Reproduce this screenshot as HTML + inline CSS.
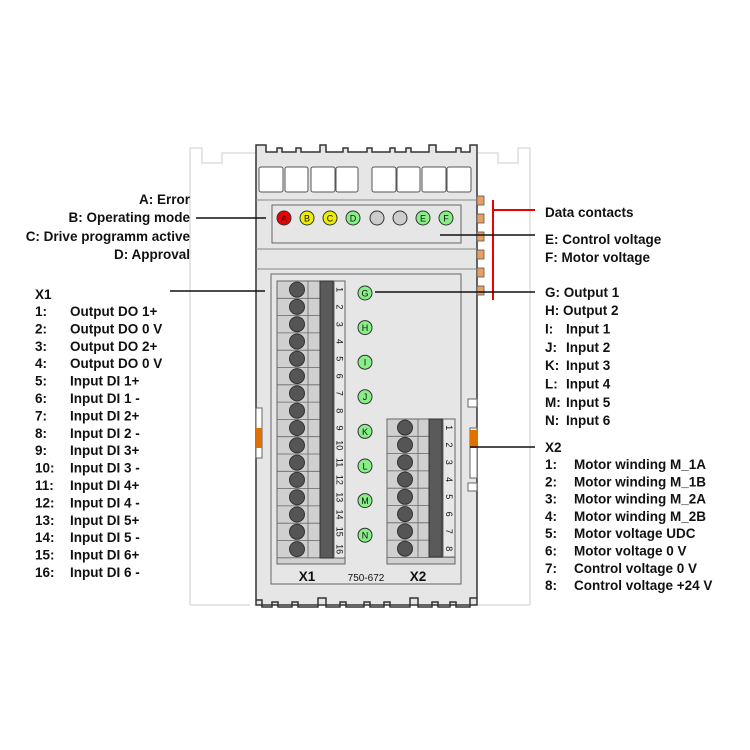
<!DOCTYPE html>
<html><head><meta charset="utf-8"><style>
html,body{margin:0;padding:0;background:#fff}
svg{display:block}
text{font-family:"Liberation Sans",sans-serif;font-weight:bold;font-size:13.5px;fill:#111}
</style></head><body>
<svg width="750" height="750" viewBox="0 0 750 750" xmlns="http://www.w3.org/2000/svg">
<!-- ghost neighbours -->
<g fill="none" stroke="#ddd" stroke-width="1.5">
<path d="M190 605 V148 H202 V163 H222 V153 H258"/>
<path d="M530 605 V148 H518 V163 H498 V153 H478"/>
<path d="M190 605 H250 M478 605 H530"/>
</g>
<!-- module body -->
<path d="M256 605 V145 H266 V152 H277 V148 H282 V152 H296 V148 H301 V152 H320 V145 H326 V152 H343 V148 H348 V152 H367 V148 H372 V152 H390 V148 H395 V152 H406 V148 H411 V152 H429 V145 H436 V152 H456 V148 H461 V152 H470 V145 H477 V605 Z" fill="#e6e6e6" stroke="#333" stroke-width="1.5"/>
<!-- bottom notches -->
<path d="M256 600 H262 V607 H272 V602 H278 V607 H292 V602 H298 V607 H318 V598 H326 V607 H340 V602 H346 V607 H364 V602 H370 V607 H384 V602 H390 V607 H410 V598 H418 V607 H432 V602 H438 V607 H450 V602 H456 V607 H470 V598 H477" fill="none" stroke="#333" stroke-width="1.5"/>
<!-- connector windows -->
<g fill="#fff" stroke="#555" stroke-width="1">
<rect x="259" y="167" width="24" height="25" rx="2"/><rect x="285" y="167" width="23" height="25" rx="2"/>
<rect x="311" y="167" width="24" height="25" rx="2"/><rect x="336" y="167" width="22" height="25" rx="2"/>
<rect x="372" y="167" width="24" height="25" rx="2"/><rect x="397" y="167" width="23" height="25" rx="2"/>
<rect x="422" y="167" width="24" height="25" rx="2"/><rect x="447" y="167" width="24" height="25" rx="2"/>
</g>
<g stroke="#888" stroke-width="1"><line x1="256" y1="200" x2="477" y2="200"/><line x1="256" y1="249" x2="477" y2="249"/><line x1="256" y1="269" x2="477" y2="269"/></g>
<rect x="272" y="205" width="189" height="38" fill="#e6e6e6" stroke="#666"/>
<g stroke="#333" stroke-width="1" font-size="9">
<circle cx="284" cy="218" r="7" fill="#e00"/><circle cx="307" cy="218" r="7" fill="#ee0"/><circle cx="330" cy="218" r="7" fill="#ee0"/><circle cx="353" cy="218" r="7" fill="#8e8"/>
<circle cx="377" cy="218" r="7" fill="#ccc"/><circle cx="400" cy="218" r="7" fill="#ccc"/><circle cx="423" cy="218" r="7" fill="#8e8"/><circle cx="446" cy="218" r="7" fill="#8e8"/>
</g>
<g font-size="9" font-weight="normal" text-anchor="middle">
<text x="284" y="221.5" style="font-size:9px;font-weight:normal">A</text><text x="307" y="221.5" style="font-size:9px;font-weight:normal">B</text><text x="330" y="221.5" style="font-size:9px;font-weight:normal">C</text><text x="353" y="221.5" style="font-size:9px;font-weight:normal">D</text><text x="423" y="221.5" style="font-size:9px;font-weight:normal">E</text><text x="446" y="221.5" style="font-size:9px;font-weight:normal">F</text>
</g>
<!-- lower panel -->
<rect x="271" y="274" width="190" height="310" fill="#e6e6e6" stroke="#666"/>
<!-- side clips -->
<rect x="256" y="408" width="6" height="50" fill="#fff" stroke="#666"/><rect x="256" y="428" width="6" height="20" fill="#e07000"/>
<rect x="468" y="399" width="9" height="8" fill="#fff" stroke="#666"/><rect x="468" y="483" width="9" height="8" fill="#fff" stroke="#666"/>
<rect x="470" y="428" width="7" height="50" fill="#fff" stroke="#666"/><rect x="470" y="430" width="8" height="18" fill="#e07000"/>
<!-- X1 block -->
<g id="x1">
<rect x="277" y="281" width="68" height="283" fill="#d0d0d0" stroke="#666"/>
</g>
<g stroke="#666" stroke-width="0.8">
<line x1="277" y1="298.3" x2="345" y2="298.3"/><line x1="277" y1="315.6" x2="345" y2="315.6"/><line x1="277" y1="332.9" x2="345" y2="332.9"/><line x1="277" y1="350.2" x2="345" y2="350.2"/><line x1="277" y1="367.5" x2="345" y2="367.5"/><line x1="277" y1="384.8" x2="345" y2="384.8"/><line x1="277" y1="402.1" x2="345" y2="402.1"/><line x1="277" y1="419.4" x2="345" y2="419.4"/><line x1="277" y1="436.7" x2="345" y2="436.7"/><line x1="277" y1="454" x2="345" y2="454"/><line x1="277" y1="471.3" x2="345" y2="471.3"/><line x1="277" y1="488.6" x2="345" y2="488.6"/><line x1="277" y1="505.9" x2="345" y2="505.9"/><line x1="277" y1="523.2" x2="345" y2="523.2"/><line x1="277" y1="540.5" x2="345" y2="540.5"/><line x1="277" y1="557.8" x2="345" y2="557.8"/>
<line x1="308" y1="281" x2="308" y2="558"/>
</g>
<rect x="320" y="281" width="13" height="277" fill="#5a5a5a" stroke="#333"/>
<rect x="334" y="281" width="11" height="277" fill="#e8e8e8" stroke="#666"/>
<g fill="#555" stroke="#333">
<circle cx="297" cy="289.6" r="7.5"/><circle cx="297" cy="306.9" r="7.5"/><circle cx="297" cy="324.2" r="7.5"/><circle cx="297" cy="341.5" r="7.5"/><circle cx="297" cy="358.8" r="7.5"/><circle cx="297" cy="376.1" r="7.5"/><circle cx="297" cy="393.4" r="7.5"/><circle cx="297" cy="410.7" r="7.5"/><circle cx="297" cy="428" r="7.5"/><circle cx="297" cy="445.3" r="7.5"/><circle cx="297" cy="462.6" r="7.5"/><circle cx="297" cy="479.9" r="7.5"/><circle cx="297" cy="497.2" r="7.5"/><circle cx="297" cy="514.5" r="7.5"/><circle cx="297" cy="531.8" r="7.5"/><circle cx="297" cy="549.1" r="7.5"/>
</g>
<g style="font-size:9px;font-weight:normal">
<text transform="translate(336.5,289.6) rotate(90)" text-anchor="middle" style="font-size:9px;font-weight:normal">1</text>
<text transform="translate(336.5,306.9) rotate(90)" text-anchor="middle" style="font-size:9px;font-weight:normal">2</text>
<text transform="translate(336.5,324.2) rotate(90)" text-anchor="middle" style="font-size:9px;font-weight:normal">3</text>
<text transform="translate(336.5,341.5) rotate(90)" text-anchor="middle" style="font-size:9px;font-weight:normal">4</text>
<text transform="translate(336.5,358.8) rotate(90)" text-anchor="middle" style="font-size:9px;font-weight:normal">5</text>
<text transform="translate(336.5,376.1) rotate(90)" text-anchor="middle" style="font-size:9px;font-weight:normal">6</text>
<text transform="translate(336.5,393.4) rotate(90)" text-anchor="middle" style="font-size:9px;font-weight:normal">7</text>
<text transform="translate(336.5,410.7) rotate(90)" text-anchor="middle" style="font-size:9px;font-weight:normal">8</text>
<text transform="translate(336.5,428) rotate(90)" text-anchor="middle" style="font-size:9px;font-weight:normal">9</text>
<text transform="translate(336.5,445.3) rotate(90)" text-anchor="middle" style="font-size:9px;font-weight:normal">10</text>
<text transform="translate(336.5,462.6) rotate(90)" text-anchor="middle" style="font-size:9px;font-weight:normal">11</text>
<text transform="translate(336.5,479.9) rotate(90)" text-anchor="middle" style="font-size:9px;font-weight:normal">12</text>
<text transform="translate(336.5,497.2) rotate(90)" text-anchor="middle" style="font-size:9px;font-weight:normal">13</text>
<text transform="translate(336.5,514.5) rotate(90)" text-anchor="middle" style="font-size:9px;font-weight:normal">14</text>
<text transform="translate(336.5,531.8) rotate(90)" text-anchor="middle" style="font-size:9px;font-weight:normal">15</text>
<text transform="translate(336.5,549.1) rotate(90)" text-anchor="middle" style="font-size:9px;font-weight:normal">16</text>
</g>
<!-- X2 block -->
<rect x="387" y="419" width="68" height="145" fill="#d0d0d0" stroke="#666"/>
<g stroke="#666" stroke-width="0.8">
<line x1="387" y1="436.3" x2="455" y2="436.3"/><line x1="387" y1="453.6" x2="455" y2="453.6"/><line x1="387" y1="470.9" x2="455" y2="470.9"/><line x1="387" y1="488.2" x2="455" y2="488.2"/><line x1="387" y1="505.5" x2="455" y2="505.5"/><line x1="387" y1="522.8" x2="455" y2="522.8"/><line x1="387" y1="540.1" x2="455" y2="540.1"/><line x1="387" y1="557.4" x2="455" y2="557.4"/>
<line x1="418" y1="419" x2="418" y2="557"/>
</g>
<rect x="429" y="419" width="13" height="138" fill="#5a5a5a" stroke="#333"/>
<rect x="443" y="419" width="12" height="138" fill="#e8e8e8" stroke="#666"/>
<g fill="#555" stroke="#333">
<circle cx="405" cy="427.6" r="7.5"/><circle cx="405" cy="444.9" r="7.5"/><circle cx="405" cy="462.2" r="7.5"/><circle cx="405" cy="479.5" r="7.5"/><circle cx="405" cy="496.8" r="7.5"/><circle cx="405" cy="514.1" r="7.5"/><circle cx="405" cy="531.4" r="7.5"/><circle cx="405" cy="548.7" r="7.5"/>
</g>
<g>
<text transform="translate(446,427.6) rotate(90)" text-anchor="middle" style="font-size:9px;font-weight:normal">1</text>
<text transform="translate(446,444.9) rotate(90)" text-anchor="middle" style="font-size:9px;font-weight:normal">2</text>
<text transform="translate(446,462.2) rotate(90)" text-anchor="middle" style="font-size:9px;font-weight:normal">3</text>
<text transform="translate(446,479.5) rotate(90)" text-anchor="middle" style="font-size:9px;font-weight:normal">4</text>
<text transform="translate(446,496.8) rotate(90)" text-anchor="middle" style="font-size:9px;font-weight:normal">5</text>
<text transform="translate(446,514.1) rotate(90)" text-anchor="middle" style="font-size:9px;font-weight:normal">6</text>
<text transform="translate(446,531.4) rotate(90)" text-anchor="middle" style="font-size:9px;font-weight:normal">7</text>
<text transform="translate(446,548.7) rotate(90)" text-anchor="middle" style="font-size:9px;font-weight:normal">8</text>
</g>
<!-- G-N LEDs -->
<g fill="#8e8" stroke="#333">
<circle cx="365" cy="293" r="7"/><circle cx="365" cy="327.6" r="7"/><circle cx="365" cy="362.2" r="7"/><circle cx="365" cy="396.8" r="7"/><circle cx="365" cy="431.4" r="7"/><circle cx="365" cy="466" r="7"/><circle cx="365" cy="500.6" r="7"/><circle cx="365" cy="535.2" r="7"/>
</g>
<g text-anchor="middle">
<text x="365" y="296.5" style="font-size:9px;font-weight:normal">G</text><text x="365" y="331" style="font-size:9px;font-weight:normal">H</text><text x="365" y="365.5" style="font-size:9px;font-weight:normal">I</text><text x="365" y="400" style="font-size:9px;font-weight:normal">J</text><text x="365" y="434.8" style="font-size:9px;font-weight:normal">K</text><text x="365" y="469.4" style="font-size:9px;font-weight:normal">L</text><text x="365" y="504" style="font-size:9px;font-weight:normal">M</text><text x="365" y="538.6" style="font-size:9px;font-weight:normal">N</text>
</g>
<text x="307" y="581" text-anchor="middle">X1</text>
<text x="366" y="581" text-anchor="middle" style="font-size:10px;font-weight:normal">750-672</text>
<text x="418" y="581" text-anchor="middle">X2</text>
<!-- data contacts -->
<g fill="#e8a060" stroke="#555" stroke-width="0.8">
<rect x="477" y="196" width="7" height="9"/><rect x="477" y="214" width="7" height="9"/><rect x="477" y="232" width="7" height="9"/><rect x="477" y="250" width="7" height="9"/><rect x="477" y="268" width="7" height="9"/><rect x="477" y="286" width="7" height="9"/>
</g>
<g stroke="#e00" stroke-width="2"><line x1="493" y1="200" x2="493" y2="300"/><line x1="493" y1="210" x2="535" y2="210"/></g>
<!-- leader lines -->
<g stroke="#111" stroke-width="1.5">
<line x1="196" y1="218" x2="266" y2="218"/>
<line x1="440" y1="235" x2="535" y2="235"/>
<line x1="170" y1="291" x2="265" y2="291"/>
<line x1="375" y1="292" x2="535" y2="292"/>
<line x1="470" y1="447" x2="535" y2="447"/>
</g>
<!-- left labels -->
<g text-anchor="end">
<text x="190" y="204">A: Error</text>
<text x="190" y="222">B: Operating mode</text>
<text x="190" y="241">C: Drive programm active</text>
<text x="190" y="259">D: Approval</text>
</g>
<text x="35" y="299">X1</text>
<g>
<text x="35" y="316">1:</text><text x="70" y="316">Output DO 1+</text>
<text x="35" y="333.4">2:</text><text x="70" y="333.4">Output DO 0 V</text>
<text x="35" y="350.8">3:</text><text x="70" y="350.8">Output DO 2+</text>
<text x="35" y="368.2">4:</text><text x="70" y="368.2">Output DO 0 V</text>
<text x="35" y="385.6">5:</text><text x="70" y="385.6">Input DI 1+</text>
<text x="35" y="403">6:</text><text x="70" y="403">Input DI 1 -</text>
<text x="35" y="420.4">7:</text><text x="70" y="420.4">Input DI 2+</text>
<text x="35" y="437.8">8:</text><text x="70" y="437.8">Input DI 2 -</text>
<text x="35" y="455.2">9:</text><text x="70" y="455.2">Input DI 3+</text>
<text x="35" y="472.6">10:</text><text x="70" y="472.6">Input DI 3 -</text>
<text x="35" y="490">11:</text><text x="70" y="490">Input DI 4+</text>
<text x="35" y="507.4">12:</text><text x="70" y="507.4">Input DI 4 -</text>
<text x="35" y="524.8">13:</text><text x="70" y="524.8">Input DI 5+</text>
<text x="35" y="542.2">14:</text><text x="70" y="542.2">Input DI 5 -</text>
<text x="35" y="559.6">15:</text><text x="70" y="559.6">Input DI 6+</text>
<text x="35" y="577">16:</text><text x="70" y="577">Input DI 6 -</text>
</g>
<!-- right labels -->
<text x="545" y="217">Data contacts</text>
<text x="545" y="244">E: Control voltage</text>
<text x="545" y="262">F: Motor voltage</text>
<text x="545" y="297">G: Output 1</text>
<text x="545" y="315">H: Output 2</text>
<text x="545" y="333.5">I:</text><text x="566" y="333.5">Input 1</text>
<text x="545" y="352">J:</text><text x="566" y="352">Input 2</text>
<text x="545" y="370">K:</text><text x="566" y="370">Input 3</text>
<text x="545" y="388.5">L:</text><text x="566" y="388.5">Input 4</text>
<text x="545" y="407">M:</text><text x="566" y="407">Input 5</text>
<text x="545" y="425">N:</text><text x="566" y="425">Input 6</text>
<text x="545" y="452">X2</text>
<text x="545" y="469">1:</text><text x="574" y="469">Motor winding M_1A</text>
<text x="545" y="486.3">2:</text><text x="574" y="486.3">Motor winding M_1B</text>
<text x="545" y="503.6">3:</text><text x="574" y="503.6">Motor winding M_2A</text>
<text x="545" y="520.9">4:</text><text x="574" y="520.9">Motor winding M_2B</text>
<text x="545" y="538.2">5:</text><text x="574" y="538.2">Motor voltage UDC</text>
<text x="545" y="555.5">6:</text><text x="574" y="555.5">Motor voltage 0 V</text>
<text x="545" y="572.8">7:</text><text x="574" y="572.8">Control voltage 0 V</text>
<text x="545" y="590.1">8:</text><text x="574" y="590.1">Control voltage +24 V</text>
</svg>
</body></html>
